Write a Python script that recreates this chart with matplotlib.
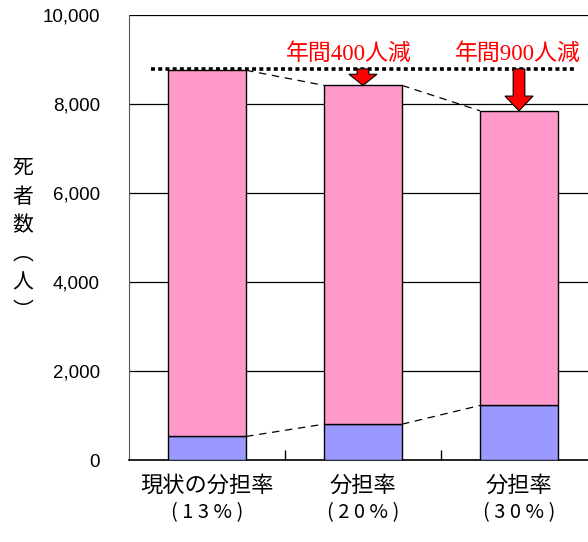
import matplotlib
matplotlib.use("Agg")
import matplotlib.pyplot as plt
from matplotlib.patches import FancyArrow
from matplotlib.ticker import FuncFormatter

plt.rcParams['font.family'] = ['Noto Sans CJK JP', 'DejaVu Sans']

# Data
categories = ["現状の分担率", "分担率", "分担率"]
shares = ["( 1 3 % )", "( 2 0 % )", "( 3 0 % )"]
bottom_vals = [540, 815, 1235]      # lower (blue) segment
totals = [8760, 8420, 7850]         # bar totals
baseline = 8790                     # current level reference
reductions = ["年間400人減", "年間900人減"]
yticks = [0, 2000, 4000, 6000, 8000, 10000]

pink = "#FF99CC"
blue = "#9999FF"

fig = plt.figure(figsize=(5.88, 5.42), dpi=100)
ax = fig.add_axes([129 / 588, 0.1504, 468 / 588, 0.8219])

x = list(range(len(categories)))
w = 0.5
upper = [t - b for t, b in zip(totals, bottom_vals)]
ax.bar(x, bottom_vals, width=w, color=blue, edgecolor="black", linewidth=1, zorder=3)
ax.bar(x, upper, width=w, bottom=bottom_vals, color=pink, edgecolor="black",
       linewidth=1, zorder=3)

# connectors between bars
for i in range(len(x) - 1):
    for vals in (totals, bottom_vals):
        ax.plot([x[i] + w / 2, x[i + 1] - w / 2], [vals[i], vals[i + 1]],
                color="black", lw=0.9, ls=(0, (6, 4.5)), zorder=2)

# reference line of current level
ax.plot([-0.36, 2.36], [baseline, baseline], color="black", lw=2.6,
        ls=(0, (1.1, 0.9)), zorder=4)

# reduction arrows
for i, (xi, top) in enumerate(zip(x[1:], totals[1:])):
    length = baseline - top
    hl = 250 if i == 0 else 330
    sw = 0.075
    hw = 0.18
    arr = FancyArrow(xi, baseline, 0, -length, width=sw, head_width=hw,
                     head_length=hl, length_includes_head=True,
                     facecolor="#FF0000", edgecolor="black", linewidth=0.8,
                     zorder=5)
    ax.add_patch(arr)

label_font = ["Liberation Serif", "Noto Sans CJK JP"]
ax.text(0.91, 9120, reductions[0], color="#FF0000", fontsize=16.5,
        ha="center", va="center", zorder=6, family=label_font)
ax.text(1.99, 9120, reductions[1], color="#FF0000", fontsize=16.5,
        ha="center", va="center", zorder=6, family=label_font)

ax.set_xlim(-0.5, 2.5)
ax.set_ylim(0, 10000)
ax.set_yticks(yticks)
ax.yaxis.set_major_formatter(FuncFormatter(lambda v, p: f"{int(v):,}"))
ax.tick_params(axis="y", length=0, pad=21, labelsize=13.5)
for lab in ax.get_yticklabels():
    lab.set_fontfamily(["Liberation Sans", "DejaVu Sans"])
ax.yaxis.grid(True, color="black", lw=0.9, zorder=1)
ax.set_axisbelow(True)

ax.set_xticks(x)
ax.set_xticklabels([])
ax.set_xticks([0.5, 1.5], minor=True)
ax.tick_params(axis="x", which="major", length=0)
ax.tick_params(axis="x", which="minor", direction="in", length=7, width=1)

for s in ("top", "right"):
    ax.spines[s].set_visible(False)
ax.spines["left"].set_color("#555555")
ax.spines["bottom"].set_color("black")
ax.spines["bottom"].set_linewidth(1.2)

# category labels
for xi, c, s in zip(x, categories, shares):
    ax.annotate(c, xy=(xi, 0), xycoords="data", xytext=(0, -25),
                textcoords="offset pixels", ha="center", va="center",
                fontsize=16, annotation_clip=False)
    ax.annotate(s, xy=(xi, 0), xycoords="data", xytext=(0, -52),
                textcoords="offset pixels", ha="center", va="center",
                fontsize=14.5, annotation_clip=False)

# vertical axis title
ylabel_chars = ["死", "者", "数", "︵", "人", "︶"]
ypix = [168, 197, 225, 254, 283, 311]
for ch, yp in zip(ylabel_chars, ypix):
    fig.text(23 / 588, 1 - yp / 542, ch, ha="center", va="center", fontsize=15)

fig.savefig("out.png", dpi=100)
